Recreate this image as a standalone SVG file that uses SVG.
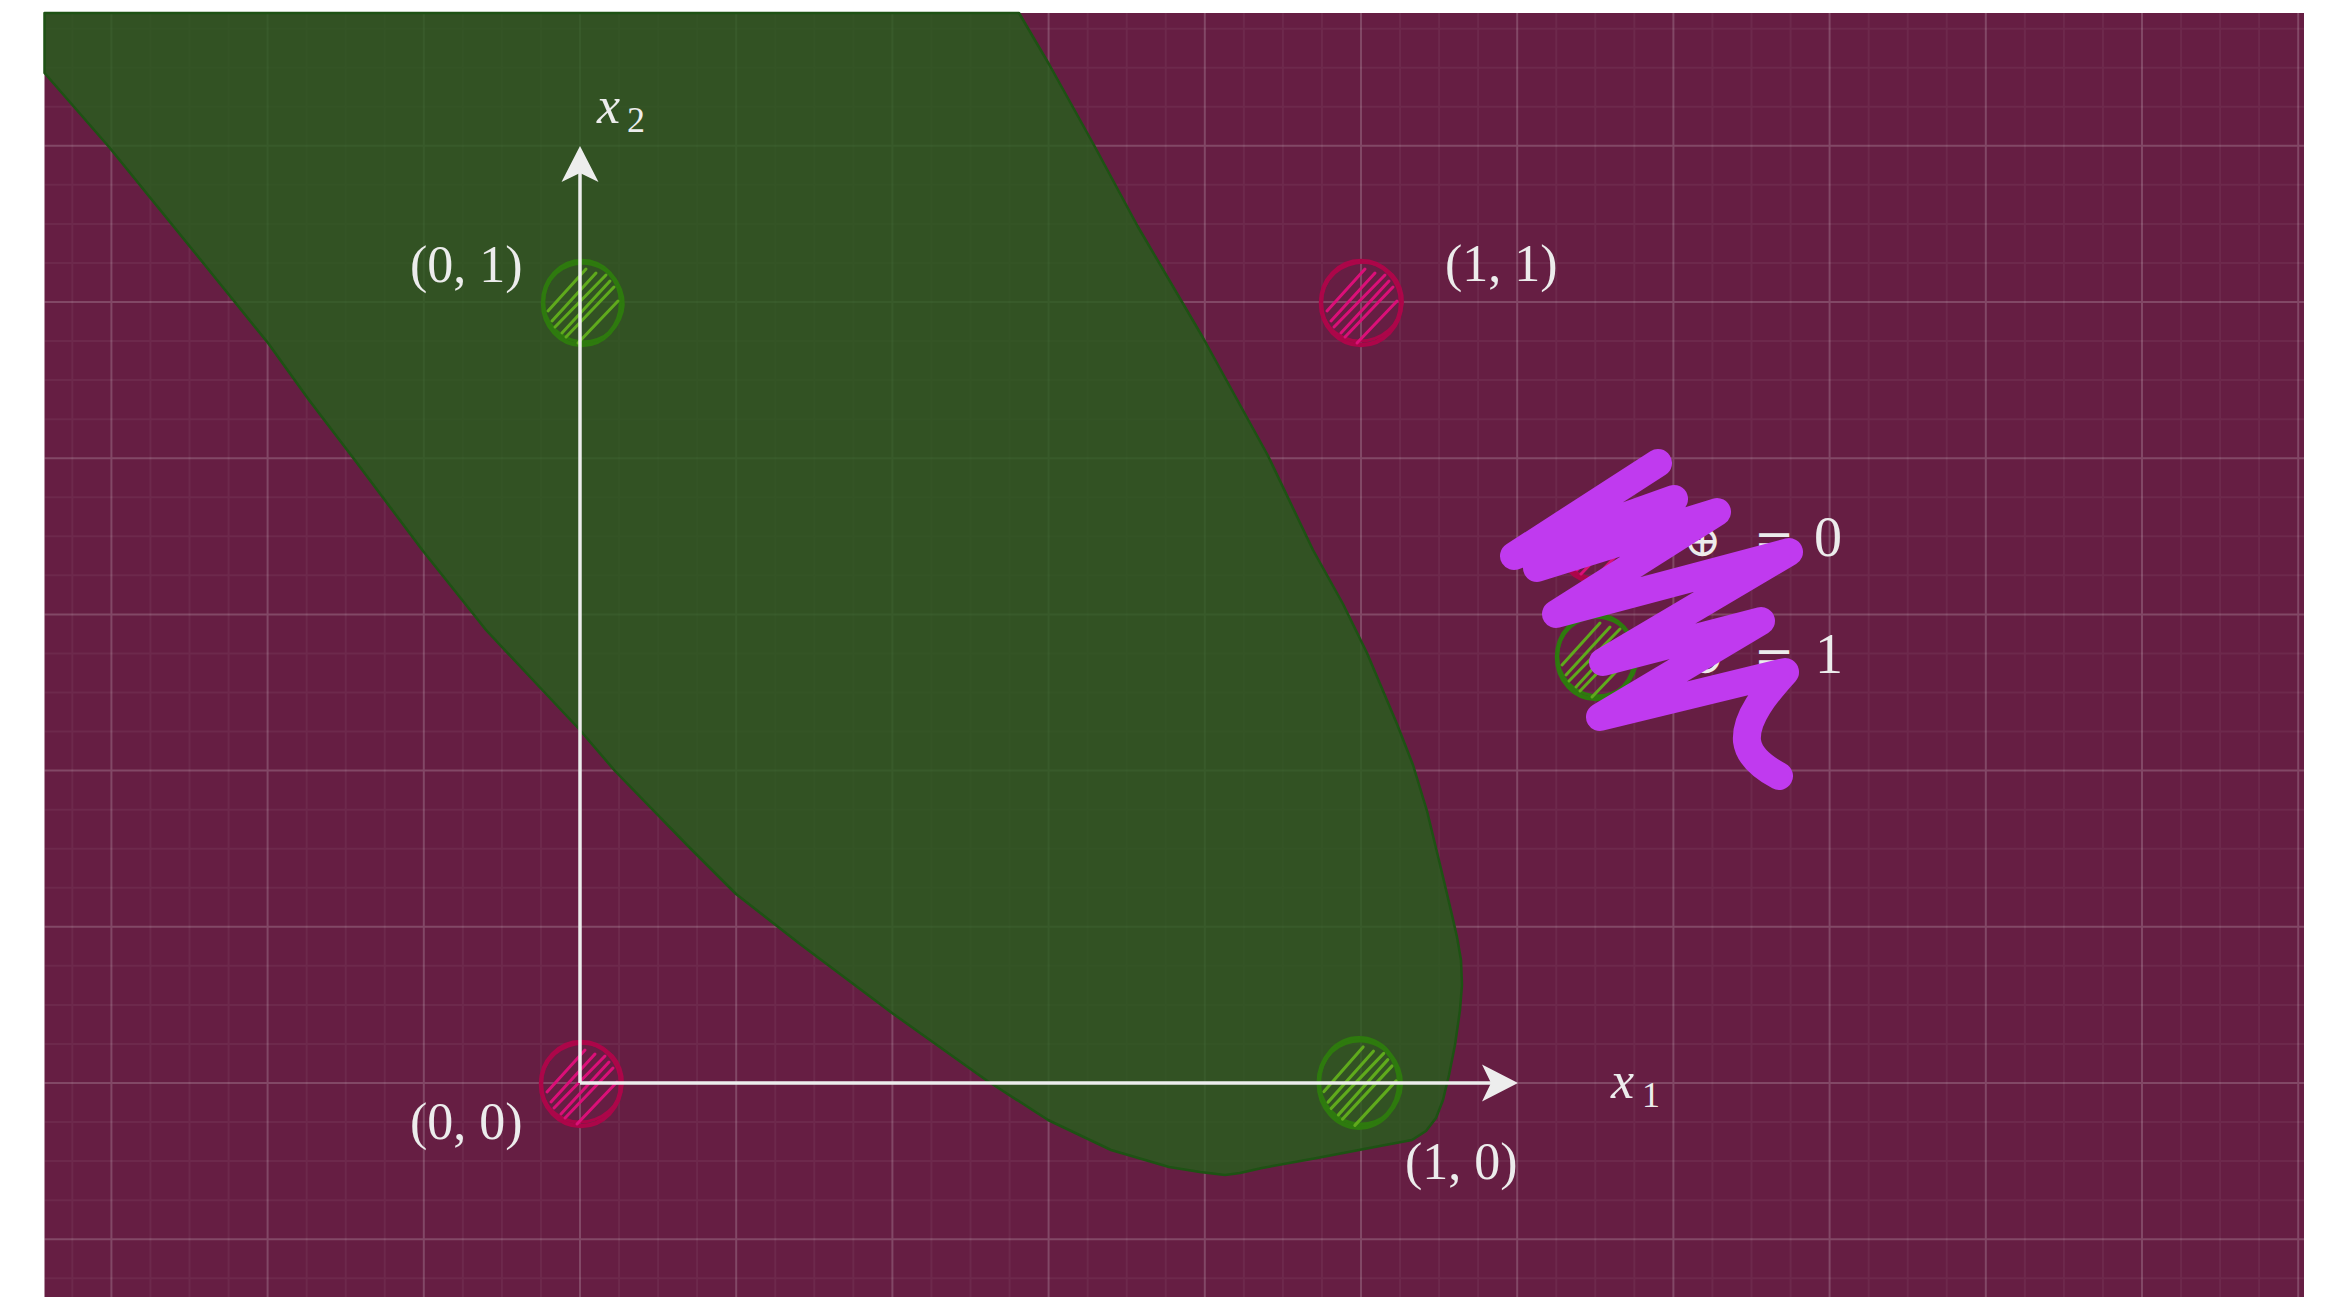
<svg xmlns="http://www.w3.org/2000/svg" xmlns:xlink="http://www.w3.org/1999/xlink" width="2325" height="1297" viewBox="0 0 2325 1297">
<style>
.lbl{font-family:'Liberation Serif','DejaVu Serif',serif;fill:#ECECEC;font-size:52px}
.ital{font-style:italic}
.sym{font-family:'DejaVu Serif','Liberation Serif',serif;fill:#ECECEC}
.minor{stroke:#FFFFFF;stroke-opacity:0.05;stroke-width:2;fill:none}
.major{stroke:#FFFFFF;stroke-opacity:0.19;stroke-width:2;fill:none}
.axis{stroke:#EDEDED;stroke-width:3.5;fill:none}
</style>
<defs>
<marker id="arrow" markerUnits="userSpaceOnUse" viewBox="-30 -20 40 40" markerWidth="40" markerHeight="40" refX="0" refY="0" orient="auto">
<path d="M 8 0 L -28 -18.5 L -19 0 L -28 18.5 Z" fill="#EDEDED"/>
</marker>
<g id="hc-green">
<ellipse cx="0" cy="0" rx="39" ry="42" fill="none" stroke="#2E7A0E" stroke-width="4.5"/>
<ellipse cx="1" cy="-1" rx="40" ry="39" transform="rotate(25)" fill="none" stroke="#2E7A0E" stroke-width="3"/>
<path d="M -34 8 L 4 -34 M -27 24 L 24 -28 M -16 34 L 32 -16 M -4 40 L 36 -2 M -30 18 L 14 -30 M -20 30 L 28 -22" stroke="#5FAA1C" stroke-width="3" fill="none" stroke-linecap="round"/>
</g>
<g id="hc-red">
<ellipse cx="0" cy="0" rx="40" ry="42" fill="none" stroke="#AC0649" stroke-width="4.5"/>
<ellipse cx="1" cy="-1" rx="41" ry="39" transform="rotate(-20)" fill="none" stroke="#AC0649" stroke-width="3"/>
<path d="M -34 8 L 4 -34 M -27 24 L 24 -28 M -16 34 L 32 -16 M -4 40 L 36 -2 M -30 18 L 14 -30 M -20 30 L 28 -22" stroke="#DB0F78" stroke-width="3" fill="none" stroke-linecap="round"/>
</g>
</defs>

<rect x="0" y="0" width="2325" height="1297" fill="#FFFFFF"/>
<rect id="plane" x="44.5" y="13" width="2259.5" height="1284" fill="#661E43"/>

<g id="grid">
<path class="minor" d="M72.35 13V1297M150.45 13V1297M189.5 13V1297M228.55 13V1297M306.65 13V1297M345.7 13V1297M384.75 13V1297M462.85 13V1297M501.9 13V1297M540.95 13V1297M619.05 13V1297M658.1 13V1297M697.15 13V1297M775.25 13V1297M814.3 13V1297M853.35 13V1297M931.45 13V1297M970.5 13V1297M1009.55 13V1297M1087.65 13V1297M1126.7 13V1297M1165.75 13V1297M1243.85 13V1297M1282.9 13V1297M1321.95 13V1297M1400.05 13V1297M1439.1 13V1297M1478.15 13V1297M1556.25 13V1297M1595.3 13V1297M1634.35 13V1297M1712.45 13V1297M1751.5 13V1297M1790.55 13V1297M1868.65 13V1297M1907.7 13V1297M1946.75 13V1297M2024.85 13V1297M2063.9 13V1297M2102.95 13V1297M2181.05 13V1297M2220.1 13V1297M2259.15 13V1297
M44.5 1278.25H2304M44.5 1200.15H2304M44.5 1161.1H2304M44.5 1122.05H2304M44.5 1043.95H2304M44.5 1004.9H2304M44.5 965.85H2304M44.5 887.75H2304M44.5 848.7H2304M44.5 809.65H2304M44.5 731.55H2304M44.5 692.5H2304M44.5 653.45H2304M44.5 575.35H2304M44.5 536.3H2304M44.5 497.25H2304M44.5 419.15H2304M44.5 380.1H2304M44.5 341.05H2304M44.5 262.95H2304M44.5 223.9H2304M44.5 184.85H2304M44.5 106.75H2304M44.5 67.7H2304M44.5 28.65H2304"/>
<path class="major" d="M111.4 13V1297M267.6 13V1297M423.8 13V1297M580 13V1297M736.2 13V1297M892.4 13V1297M1048.6 13V1297M1204.8 13V1297M1361 13V1297M1517.2 13V1297M1673.4 13V1297M1829.6 13V1297M1985.8 13V1297M2142 13V1297M2298.2 13V1297
M44.5 1239.2H2304M44.5 1083H2304M44.5 926.8H2304M44.5 770.6H2304M44.5 614.4H2304M44.5 458.2H2304M44.5 302H2304M44.5 145.8H2304"/>
</g>

<g id="green-region">
<path d="M44.5 13 L1019 13 L1049.5 65 L1095 147 L1137.5 226 L1202.6 337 L1267.6 455 L1313 550 L1343 604 L1367 653 L1397 724 L1413 765 L1427 811 L1443 877 L1452 915 L1457 937 L1461 960 L1462 985 L1460 1010 L1455 1045 L1449 1075 L1443 1100 L1436 1118 L1426 1131 L1412 1140 L1380 1146 L1317 1158 L1262 1168 L1240 1173 L1225 1175 L1200 1172 L1169 1167 L1111 1150 L1048 1120 L986 1080 L892 1013 L800 944 L736 894 L690 848 L615 771 L579 729 L532 679 L486 630 L455 591 L423 551 L354 459 L309 400 L268 343 L200 259 L109 147 L44.5 73 Z" fill="#255F1B" fill-opacity="0.8" stroke="#1E5214" stroke-width="2.5" stroke-linejoin="round"/>
</g>

<g id="point-0-1"><use xlink:href="#hc-green" href="#hc-green" transform="translate(582 303)"/></g>
<g id="point-1-1"><use xlink:href="#hc-red" href="#hc-red" transform="translate(1361 303)"/></g>
<g id="point-0-0"><use xlink:href="#hc-red" href="#hc-red" transform="translate(581 1084)"/></g>
<g id="point-1-0"><use xlink:href="#hc-green" href="#hc-green" transform="translate(1359 1083) scale(1.03 1.06)"/></g>

<g id="connectors">
<path id="axis-x2" class="axis" d="M580 1083 L580 154" marker-end="url(#arrow)"/>
<path id="axis-x1" class="axis" d="M580 1083 L1510 1083" marker-end="url(#arrow)"/>
</g>

<g id="labels">
<text class="lbl" x="410" y="282">(0, 1)</text>
<text class="lbl" x="1445" y="281">(1, 1)</text>
<text class="lbl" x="410" y="1139">(0, 0)</text>
<text class="lbl" x="1405" y="1179">(1, 0)</text>
<g id="label-x2"><text class="lbl ital" x="597" y="123">x</text><text class="lbl" x="627" y="132" style="font-size:36px">2</text></g>
<g id="label-x1"><text class="lbl ital" x="1611" y="1098">x</text><text class="lbl" x="1642" y="1107" style="font-size:36px">1</text></g>
</g>

<g id="legend-0">
<use xlink:href="#hc-red" href="#hc-red" transform="translate(1597 540)"/>
<text class="sym" x="1683" y="556" style="font-size:46px">⊕</text>
<text class="sym" x="1754" y="556" style="font-size:48px">=</text>
<text class="lbl" x="1814" y="556" style="font-size:56px">0</text>
</g>
<g id="legend-1">
<use xlink:href="#hc-green" href="#hc-green" transform="translate(1596 657)"/>
<text class="sym" x="1686" y="673" style="font-size:46px">⊕</text>
<text class="sym" x="1754" y="673" style="font-size:48px">=</text>
<text class="lbl" x="1815" y="673" style="font-size:56px">1</text>
</g>

<g id="scribble">
<path d="M1658 463 L1514 556 L1674 499 L1537 568 L1717 512 L1556 614 L1789 552 L1603 662 L1761 621 L1600 717 L1785 672 C1766 693 1745 718 1747 741 C1749 757 1764 768 1779 776" fill="none" stroke="#C03AEF" stroke-width="28" stroke-linecap="round" stroke-linejoin="round"/>
</g>
</svg>
